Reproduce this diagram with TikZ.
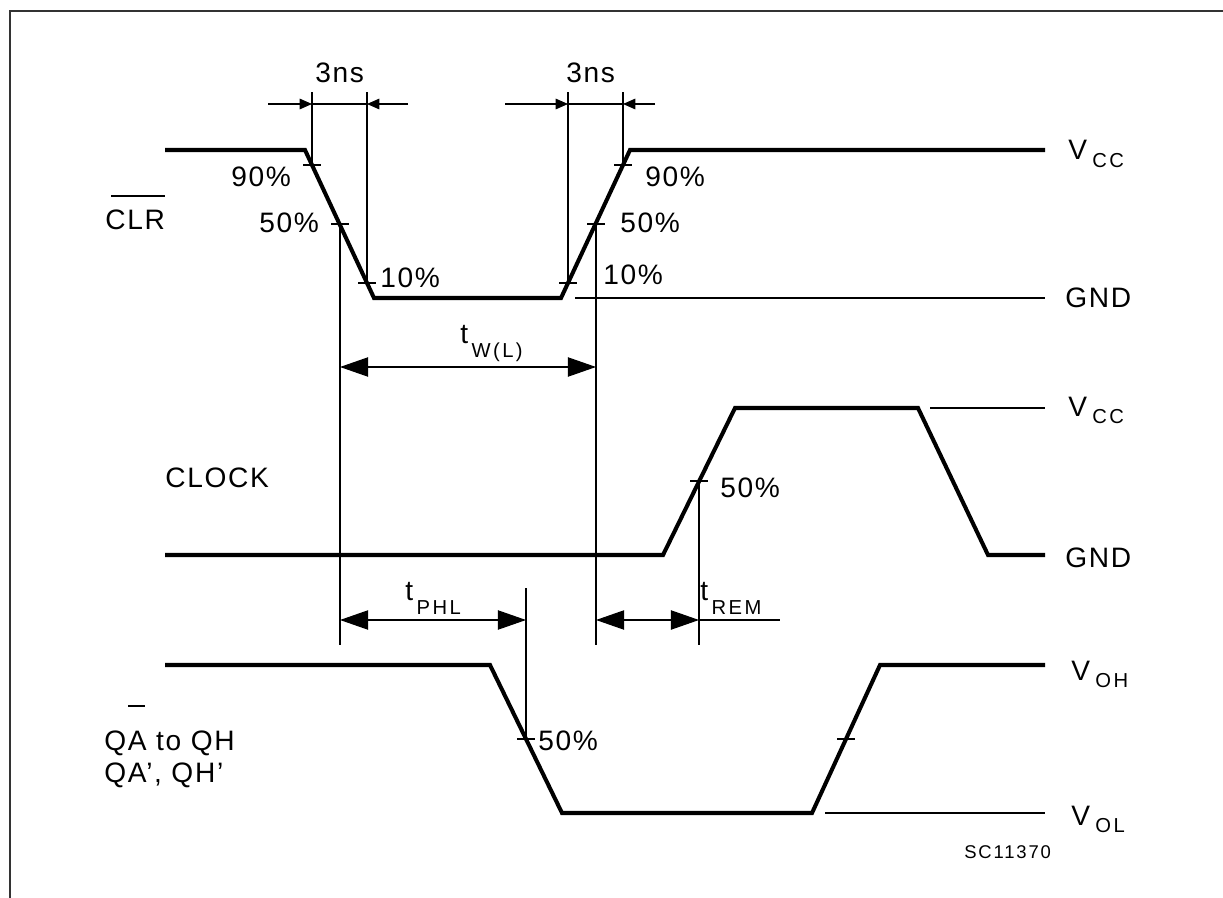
\documentclass[tikz,border=0pt]{standalone}
\usepackage{fontspec}
\setmainfont{Liberation Sans}[LetterSpace=6]
\newfontfamily\subfam{Liberation Sans}[LetterSpace=12]
\usetikzlibrary{arrows.meta}

% level name and time name with a lowered index
\newcommand{\lvlname}[2]{#1\hspace{3pt}\raisebox{-4.5pt}{\subfam\fontsize{11.5}{13}\selectfont #2}}
\newcommand{\tname}[1]{t\hspace{2pt}\raisebox{-8pt}{\subfam\fontsize{11.5}{13}\selectfont #1}}

\begin{document}
\begin{tikzpicture}[x=0.02cm,y=-0.02cm,
  sig/.style={line width=2.3pt,line join=miter},
  guide/.style={line width=0.6pt},
  small/.style={-{Triangle[length=7pt,width=6pt]}},
  big/.style={{Triangle[length=16pt,width=11pt]}-{Triangle[length=16pt,width=11pt]}},
  lbl/.style={inner sep=0pt,anchor=base west,font=\fontsize{16}{19}\selectfont}]
  \useasboundingbox (0,0) rectangle (1223,898);
  % frame
  \draw[line width=1.6pt,black!80] (10,898) -- (10,11) -- (1223,11);
  % reference heights
  \coordinate (dimtop) at (0,92);
  \coordinate (dim3) at (0,104);
  \coordinate (dimw) at (0,367);
  \coordinate (dimlo) at (0,645);
  \coordinate (dimp) at (0,620);
  % CLR waveform
  \draw[sig] (165,150) -- (305,150) -- (374,298) -- (561,298) -- (630,150) -- (1045,150);
  \draw[guide] (575,298) -- (1045,298);
  \coordinate (f90) at (312,165);
  \coordinate (f50) at (340,224);
  \coordinate (f10) at (367,283);
  \coordinate (r10) at (568,283);
  \coordinate (r50) at (596,224);
  \coordinate (r90) at (623,165);
  \foreach \c in {f90,f50,f10,r10,r50,r90}
    \draw[guide] (\c) +(-9,0) -- +(9,0);
  % 3ns rise and fall times
  \foreach \c in {f90,f10,r10,r90}
    \draw[guide] (\c) -- (\c |- dimtop);
  \draw[guide,small] (268,104) -- (f90 |- dim3);
  \draw[guide] (f90 |- dim3) -- (f10 |- dim3);
  \draw[guide,small] (408,104) -- (f10 |- dim3);
  \draw[guide,small] (505,104) -- (r10 |- dim3);
  \draw[guide] (r10 |- dim3) -- (r90 |- dim3);
  \draw[guide,small] (655,104) -- (r90 |- dim3);
  \node[lbl] (ns1) at (315,83) {3ns};
  \node[lbl] (ns2) at (566,83) {3ns};
  % percent labels
  \node[lbl] (p90a) at (231,187) {90\%};
  \node[lbl] (p50a) at (259,233) {50\%};
  \node[lbl] (p10a) at (380,288) {10\%};
  \node[lbl] (p90b) at (645,187) {90\%};
  \node[lbl] (p50b) at (620,233) {50\%};
  \node[lbl] (p10b) at (603,285) {10\%};
  \node[lbl] (clr) at (105,230) {CLR};
  \draw[guide] (111,196) -- (165,196);
  \node[lbl] (vcc1) at (1068,160) {\lvlname{V}{CC}};
  \node[lbl] (gnd1) at (1065,308) {GND};
  % pulse width
  \draw[guide] (f50) -- (f50 |- dimlo);
  \draw[guide] (r50) -- (r50 |- dimlo);
  \draw[guide,big] (f50 |- dimw) -- (r50 |- dimw);
  \node[lbl] (tw) at (460,343) {\tname{W(L)}};
  % CLOCK waveform
  \draw[sig] (165,555) -- (663,555) -- (735,408) -- (918,408) -- (988,555) -- (1045,555);
  \draw[guide] (930,408) -- (1045,408);
  \coordinate (c50) at (699,481);
  \draw[guide] (c50) +(-9,0) -- +(9,0);
  \draw[guide] (c50) -- (c50 |- dimlo);
  \node[lbl] (clk) at (165,487) {CLOCK};
  \node[lbl] (p50c) at (720,497) {50\%};
  \node[lbl] (vcc2) at (1068,416) {\lvlname{V}{CC}};
  \node[lbl] (gnd2) at (1065,567) {GND};
  % output waveform
  \draw[sig] (165,665) -- (490,665) -- (562,813) -- (812,813) -- (880,665) -- (1045,665);
  \draw[guide] (825,813) -- (1045,813);
  \coordinate (q50) at (526,739);
  \coordinate (q50b) at (846,739);
  \draw[guide] (q50) +(-9,0) -- +(9,0);
  \draw[guide] (q50b) +(-9,0) -- +(9,0);
  \draw[guide] (q50) -- (526,588);
  \node[lbl] (p50q) at (538,750) {50\%};
  \node[lbl] (voh) at (1071,680) {\lvlname{V}{OH}};
  \node[lbl] (vol) at (1071,825) {\lvlname{V}{OL}};
  \draw[guide] (128,706) -- (145,706);
  \node[lbl] (qa) at (104,750) {QA to QH};
  \node[lbl] (qb) at (104,782) {QA', QH'};
  % propagation delay and removal time
  \draw[guide,big] (f50 |- dimp) -- (q50 |- dimp);
  \node[lbl] (tphl) at (405,600) {\tname{PHL}};
  \draw[guide,big] (r50 |- dimp) -- (c50 |- dimp);
  \draw[guide] (c50 |- dimp) -- (780,620);
  \node[lbl] (trem) at (700,600) {\tname{REM}};
  \node[lbl,font=\fontsize{10.5}{13}\selectfont\addfontfeature{LetterSpace=10}] (code) at (964,858) {SC11370};
\end{tikzpicture}
\end{document}
